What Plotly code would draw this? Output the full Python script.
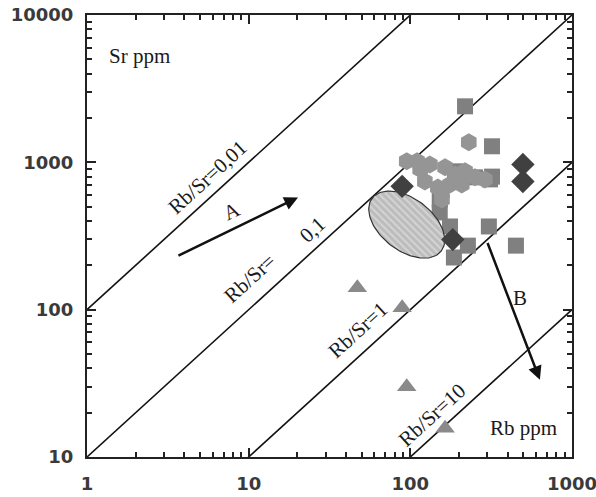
import numpy as np
import plotly.graph_objects as go

# ---- data ----
ratios = [0.01, 0.1, 1, 10]
rb_span = [1, 1000]

sq_rb = [218, 320, 306, 450, 227, 186, 176, 311, 320, 152, 152, 189, 251]
sq_sr = [2400, 1285, 367, 272, 272, 226, 367, 766, 800, 560, 457, 869, 791]

hex_rb = [230, 95, 115, 132, 164, 189, 218, 251, 289, 123, 148, 176, 208, 157, 157, 110]
hex_sr = [1370, 1016, 896, 968, 925, 828, 869, 791, 766, 742, 676, 708, 708, 560, 620, 1016]

dia_rb = [89, 497, 497, 183]
dia_sr = [687, 968, 742, 299]

tri_rb = [47, 89, 95, 164]
tri_sr = [141, 103, 30, 15.7]

# field ellipse (centre in data units)
ell_rb, ell_sr = 95, 378

# arrows: (start Rb, start Sr, end Rb, end Sr)
arrow_A = (3.6, 230, 20.2, 578)
arrow_B = (298, 290, 633, 33.4)

x_ticks = [1, 10, 100, 1000]
y_ticks = [10, 100, 1000, 10000]

# ---- figure ----
W, H = 596, 497
ml, mr, mt, mb = 87, 24, 15, 40
pw, ph = W - ml - mr, H - mt - mb
px_dec_x, px_dec_y = pw / 3, ph / 3

fig = go.Figure()

# ellipse (semi-axes in pixels, rotation in degrees)
a_px, b_px, rot = 43.5, 26, -37.4
t = np.linspace(0, 2 * np.pi, 120)
th = np.deg2rad(rot)
dx = a_px * np.cos(t) * np.cos(th) - b_px * np.sin(t) * np.sin(th)
dy = a_px * np.cos(t) * np.sin(th) + b_px * np.sin(t) * np.cos(th)
ex = 10 ** (np.log10(ell_rb) + dx / px_dec_x)
ey = 10 ** (np.log10(ell_sr) + dy / px_dec_y)

for r in ratios:
    rb = np.array(rb_span, dtype=float)
    fig.add_trace(go.Scatter(x=rb, y=rb / r, mode="lines",
                             line=dict(color="#111111", width=1.6),
                             hoverinfo="skip", showlegend=False))

fig.add_trace(go.Scatter(x=sq_rb, y=sq_sr, mode="markers", showlegend=False,
                         marker=dict(symbol="square", size=16, color="#808080", line=dict(width=0))))
fig.add_trace(go.Scatter(x=hex_rb, y=hex_sr, mode="markers", showlegend=False,
                         marker=dict(symbol="hexagon", size=18, color="#959595", line=dict(width=0))))
fig.add_trace(go.Scatter(x=ex, y=ey, mode="lines", fill="toself", showlegend=False,
                         line=dict(color="#333333", width=1.2),
                         fillcolor="#c4c4c4",
                         fillpattern=dict(shape="\\", bgcolor="#bcbcbc", fgcolor="#ededed",
                                          size=5, solidity=0.4)))
fig.add_trace(go.Scatter(x=dia_rb, y=dia_sr, mode="markers", showlegend=False,
                         marker=dict(symbol="diamond", size=18, color="#404040", line=dict(width=0))))
fig.add_trace(go.Scatter(x=tri_rb, y=tri_sr, mode="markers", showlegend=False,
                         marker=dict(symbol="triangle-up", size=17, color="#8a8a8a", line=dict(width=0))))

lg = np.log10
for (x0, y0, x1, y1) in (arrow_A, arrow_B):
    fig.add_annotation(x=lg(x1), y=lg(y1), ax=lg(x0), ay=lg(y0),
                       xref="x", yref="y", axref="x", ayref="y",
                       showarrow=True, arrowhead=2, arrowsize=1.1, arrowwidth=2.5,
                       arrowcolor="#111111", text="")

serif = dict(family="Liberation Serif", size=21, color="#1a1a1a")
ang = -np.degrees(np.arctan(px_dec_y / px_dec_x))
labels = [
    ("Rb/Sr=0,01", 0.748, 2.898, ang),
    ("Rb/Sr=", 1.008, 2.218, ang),
    ("0,1", 1.391, 2.544, ang),
    ("Rb/Sr=1", 1.676, 1.864, ang),
    ("Rb/Sr=10", 2.134, 1.286, ang),
    ("A", 0.897, 2.667, -25),
    ("B", 2.678, 2.082, 0),
]
for txt, lx, ly, a in labels:
    fig.add_annotation(x=lx, y=ly, xref="x", yref="y", text=txt, showarrow=False,
                       textangle=a, font=serif)

fig.add_annotation(x=0.041, y=0.939, xref="paper", yref="paper", text="Sr ppm",
                   showarrow=False, xanchor="left", font=serif)
fig.add_annotation(x=0.899, y=0.066, xref="paper", yref="paper", text="Rb ppm",
                   showarrow=False, xanchor="center", yanchor="middle", font=serif)

axis_common = dict(
    type="log", showgrid=False, zeroline=False, automargin=False,
    ticklabeloverflow="allow",
    showline=True, linecolor="#222222", linewidth=2, mirror="allticks",
    ticks="inside", ticklen=9, tickwidth=2, tickcolor="#222222",
    tickfont=dict(family="DejaVu Sans", size=18, color="#3a3a3a", weight="bold"),
    minor=dict(ticks="inside", dtick="D1", ticklen=5, tickwidth=1.5,
               tickcolor="#222222", showgrid=False),
)
fig.update_xaxes(range=[0, 3], tickvals=x_ticks, ticktext=[str(v) for v in x_ticks],
                 ticklabelstandoff=9, **axis_common)
fig.update_yaxes(range=[1, 4], tickvals=y_ticks, ticktext=[str(v) for v in y_ticks],
                 ticklabelstandoff=8, **axis_common)

fig.update_layout(width=W, height=H, margin=dict(l=ml, r=mr, t=mt, b=mb),
                  paper_bgcolor="white", plot_bgcolor="white", showlegend=False)

fig.write_html("out.html")
